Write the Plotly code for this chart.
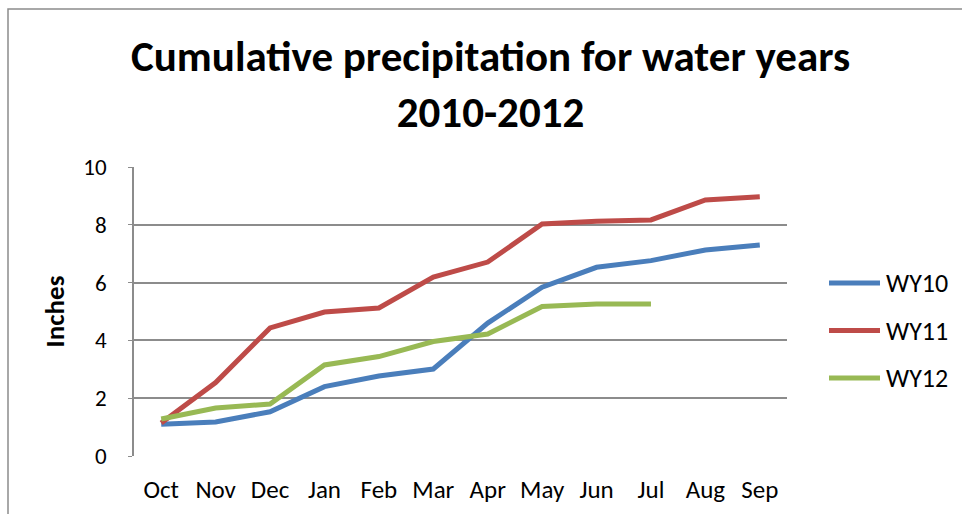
import plotly.graph_objects as go

months = ["Oct", "Nov", "Dec", "Jan", "Feb", "Mar", "Apr", "May", "Jun", "Jul", "Aug", "Sep"]
wy10 = [1.10, 1.18, 1.53, 2.40, 2.77, 3.01, 4.60, 5.84, 6.53, 6.76, 7.13, 7.30]
wy11 = [1.14, 2.54, 4.43, 4.98, 5.12, 6.19, 6.71, 8.03, 8.12, 8.17, 8.86, 8.97]
wy12 = [1.28, 1.66, 1.80, 3.15, 3.44, 3.96, 4.22, 5.17, 5.26, 5.26]
series_names = ["WY10", "WY11", "WY12"]
colors = ["#4A7EBB", "#BE4B48", "#98B954"]
y_ticks = [0, 2, 4, 6, 8, 10]

FONT = "Carlito, Calibri, Lato, sans-serif"

fig = go.Figure()
for name, vals, col in zip(series_names, [wy10, wy11, wy12], colors):
    fig.add_trace(go.Scatter(
        x=months[:len(vals)], y=vals, name=name, mode="lines",
        line=dict(color=col, width=5), showlegend=False,
    ))

L, R, T, B = 134, 175, 167, 58
W, H = 962, 514
pw = W - L - R
ph = H - T - B

def px(x):
    return (x - L) / pw

def py(y):
    return (H - B - y) / ph

shapes = [dict(
    type="rect", xref="paper", yref="paper",
    x0=px(8), x1=px(990), y0=py(540), y1=py(9),
    line=dict(color="#8C8C8C", width=1.5), fillcolor="rgba(0,0,0,0)", layer="below",
)]
annotations = [dict(
    text="<b>Cumulative precipitation for water years<br>2010-2012</b>",
    xref="paper", yref="paper", x=px(491), y=py(84),
    xanchor="center", yanchor="middle", showarrow=False,
    font=dict(family=FONT, size=43, color="black"),
)]
# custom legend (long line samples as in the reference)
for i, (name, col) in enumerate(zip(series_names, colors)):
    yy = 283 + 47.5 * i
    shapes.append(dict(type="line", xref="paper", yref="paper",
                       x0=px(829), x1=px(880), y0=py(yy), y1=py(yy),
                       line=dict(color=col, width=5)))
    annotations.append(dict(text=name, xref="paper", yref="paper",
                            x=px(884), y=py(yy), xanchor="left", yanchor="middle",
                            showarrow=False, font=dict(family=FONT, size=26, color="black")))

fig.update_layout(
    width=W, height=H,
    margin=dict(l=L, r=R, t=T, b=B, autoexpand=False),
    paper_bgcolor="white", plot_bgcolor="white",
    font=dict(family=FONT, size=24, color="black"),
    showlegend=False,
    xaxis=dict(
        type="category", categoryorder="array", categoryarray=months,
        range=[-0.5, 11.5], showgrid=False, showline=False, ticks="",
        tickfont=dict(family=FONT, size=25), fixedrange=True, ticklabelstandoff=16,
        automargin=False,
    ),
    yaxis=dict(
        range=[0, 10], tickvals=y_ticks, showgrid=True, gridcolor="#8C8C8C", gridwidth=1.5,
        showline=True, linecolor="#8C8C8C", linewidth=1.5, ticks="outside", ticklen=4,
        tickcolor="#8C8C8C", zeroline=False, ticklabelstandoff=17,
        tickfont=dict(family=FONT, size=23), automargin=False,
        title=dict(text="<b>Inches</b>", font=dict(family=FONT, size=27), standoff=11),
    ),
    annotations=annotations,
    shapes=shapes,
)

fig.write_html("out.html")
